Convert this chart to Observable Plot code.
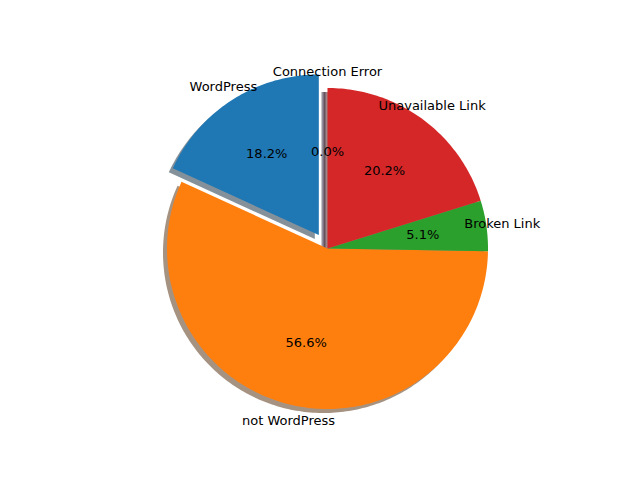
<!DOCTYPE html>
<html>
<head>
<meta charset="utf-8">
<script src="https://cdn.jsdelivr.net/npm/d3@7"></script>
<script src="https://cdn.jsdelivr.net/npm/@observablehq/plot@0.6"></script>
<style>body{margin:0;background:#fff}</style>
</head>
<body>
<div id="chart"></div>
<script>
const labels = ["WordPress", "not WordPress", "Broken Link", "Unavailable Link", "Connection Error"];
const shares = [18.2, 56.6, 5.1, 20.2, 0.0];
const colors = ["#1f77b4", "#ff7f0e", "#2ca02c", "#d62728", "#9467bd"];
const explode = [0.1, 0, 0, 0, 0];

const R = 160.5, cx = 327, cy = 248;
const total = d3.sum(shares);
const rad = (deg) => deg * Math.PI / 180;
const shadowOff = 4 / R;

let cum = 0;
const slices = shares.map((v, i) => {
  const a0 = 90 + 360 * cum / total;
  cum += v;
  const a1 = 90 + 360 * cum / total;
  const mid = (a0 + a1) / 2;
  const ox = explode[i] * Math.cos(rad(mid)), oy = explode[i] * Math.sin(rad(mid));
  return { i, label: labels[i], v, a0, a1, mid, ox, oy };
});

const wedge = [], shadow = [];
slices.forEach((s) => {
  const n = Math.max(2, Math.ceil((s.a1 - s.a0) / 1));
  const pts = [[s.ox, s.oy]];
  for (let k = 0; k <= n; k++) {
    const a = rad(s.a0 + (s.a1 - s.a0) * k / n);
    pts.push([s.ox + Math.cos(a), s.oy + Math.sin(a)]);
  }
  pts.push([s.ox, s.oy]);
  pts.forEach(([x, y]) => {
    wedge.push({ x, y, z: s.i });
    shadow.push({ x: x - shadowOff, y: y - shadowOff, z: s.i });
  });
});

const dark = (c) => { const k = d3.rgb(c); return d3.rgb(k.r * 0.3, k.g * 0.3, k.b * 0.3).toString(); };

const names = slices.map((s) => ({
  x: s.ox + 1.1 * Math.cos(rad(s.mid)), y: s.oy + 1.1 * Math.sin(rad(s.mid)),
  text: s.label, anchor: Math.cos(rad(s.mid)) >= 0 ? "start" : "end"
}));
const pcts = slices.map((s) => ({
  x: s.ox + 0.6 * Math.cos(rad(s.mid)), y: s.oy + 0.6 * Math.sin(rad(s.mid)),
  text: s.v.toFixed(1) + "%"
}));

const chart = Plot.plot({
  width: 640,
  height: 480,
  margin: 0,
  x: { domain: [-cx / R, (640 - cx) / R], range: [0, 640], axis: null },
  y: { domain: [-(480 - cy) / R, cy / R], range: [480, 0], axis: null },
  style: { fontFamily: "DejaVu Sans", fontSize: "13px" },
  marks: [
    Plot.line(shadow, {
      x: "x", y: "y", z: "z", curve: "linear",
      fill: (d) => dark(colors[d.z]), fillOpacity: 0.5,
      stroke: (d) => dark(colors[d.z]), strokeOpacity: 0.5,
      strokeWidth: (d) => d.z === 4 ? 4 : 0
    }),
    Plot.line(wedge, {
      x: "x", y: "y", z: "z", curve: "linear",
      fill: (d) => colors[d.z], stroke: "none"
    }),
    Plot.text(names, { x: "x", y: "y", text: "text", textAnchor: "anchor", fill: "black", fontSize: 13 }),
    Plot.text(pcts, { x: "x", y: "y", text: "text", fill: "black", fontSize: 13 })
  ]
});
chart.querySelectorAll("g[aria-label=line] path").forEach((p) => p.setAttribute("stroke-linejoin", "miter"));
document.getElementById("chart").appendChild(chart);
</script>
</body>
</html>
